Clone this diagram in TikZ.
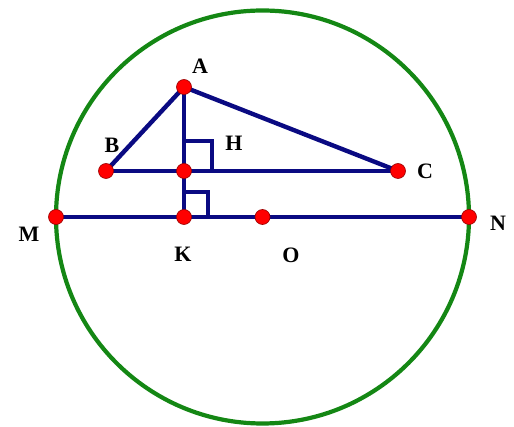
\documentclass[tikz,border=0pt]{standalone}
\usepackage{fontspec}
\setmainfont{Liberation Serif}
\begin{document}
\begin{tikzpicture}[
            x=1pt, y=-1pt,
            seg/.style={
                draw=navy,
                line width=4.4pt
            },
            dot/.style={
                circle,
                fill=red,
                draw=red!60!black,
                line width=0.6pt,
                minimum size=15pt,
                inner sep=0pt
            },
            lbl/.style={
                font=\fontsize{22}{26}\selectfont\bfseries,
                inner sep=0pt
            }
        ]
            \definecolor{navy}{RGB}{10,10,130}
            \definecolor{darkgreen}{RGB}{20,135,20}

            \useasboundingbox (0,0) rectangle (514,427);

            \coordinate (O) at (262.5, 217);
            \coordinate (M) at (56, 217);
            \coordinate (N) at (469, 217);
            \coordinate (A) at (184, 87);
            \coordinate (B) at (106, 171);
            \coordinate (H) at (184, 171);
            \coordinate (C) at (398, 171);
            \coordinate (K) at (184, 217);

            \draw[darkgreen, line width=4.2pt] (O) circle[radius=206.5pt];

            \draw[seg] (M) -- (N);
            \draw[seg] (B) -- (C);
            \draw[seg, line join=round] (B) -- (A) -- (C);
            \draw[seg] (A) -- (K);

            % right angle marks
            \draw[seg] ([yshift=30pt]H) -- ([xshift=28pt,yshift=30pt]H) -- ([xshift=28pt]H);
            \draw[seg] ([yshift=25pt]K) -- ([xshift=24pt,yshift=25pt]K) -- ([xshift=24pt]K);

            \foreach \p in {A, B, H, C, M, K, O, N}
                \node[dot] (d\p) at (\p) {};

            \node[lbl] (lA) at (200, 66) {A};
            \node[lbl] (lB) at (112, 145) {B};
            \node[lbl] (lH) at (234, 143) {H};
            \node[lbl] (lC) at (425, 171) {C};
            \node[lbl] (lM) at (29, 234) {M};
            \node[lbl] (lK) at (183, 254) {K};
            \node[lbl] (lO) at (291, 255) {O};
            \node[lbl] (lN) at (498, 223) {N};

        \end{tikzpicture}
\end{document}
